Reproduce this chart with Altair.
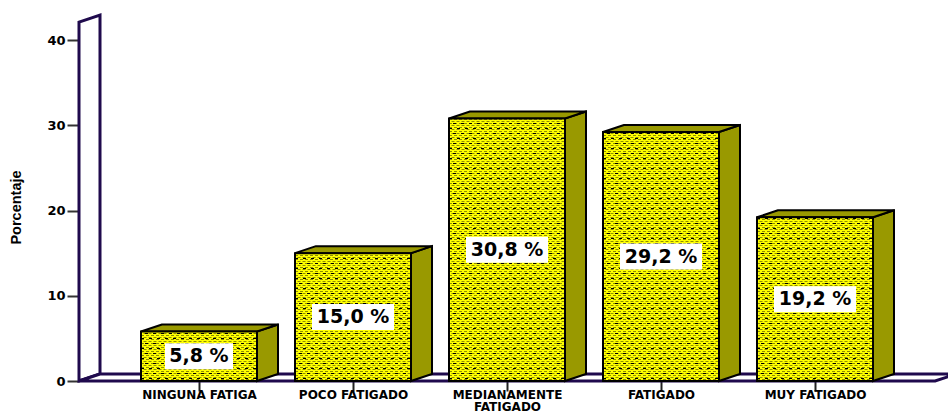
import altair as alt
import pandas as pd

# Survey results: share of respondents per fatigue level
categories = ["NINGUNA FATIGA", "POCO FATIGADO", "MEDIANAMENTE FATIGADO", "FATIGADO", "MUY FATIGADO"]
values = [5.8, 15.0, 30.8, 29.2, 19.2]
labels = ["5,8 %", "15,0 %", "30,8 %", "29,2 %", "19,2 %"]
y_ticks = [0, 10, 20, 30, 40]

PX_X = 154.0          # pixels per category step
PX_Y = 341 / 40       # pixels per percentage point
HALF_BAR = 58 / PX_X
DX = 21 / PX_X        # oblique depth, horizontal component
DY = 7 / PX_Y         # oblique depth, vertical component
X_MIN = -120 / PX_X
X_MAX = X_MIN + 869 / PX_X

PURPLE = "#1f0a4d"
OLIVE = "#999900"
YELLOW = "#ffff00"

x_scale = alt.Scale(domain=[X_MIN, X_MAX], nice=False, zero=False)
y_scale = alt.Scale(domain=[0, 40], nice=False, zero=False)

x_axis = alt.Axis(values=list(range(5)), title=None,
                  labelExpr="['NINGUNA FATIGA','POCO FATIGADO',['MEDIANAMENTE','FATIGADO'],'FATIGADO','MUY FATIGADO'][datum.value]",
                  labelFont="DejaVu Sans", labelFontWeight="bold", labelFontSize=12, labelColor="black",
                  labelLineHeight=12, labelPadding=-2, labelOverlap=False, labelAngle=0,
                  tickSize=10, tickWidth=2, tickColor="#222222", domain=False, grid=False)
y_axis = alt.Axis(values=y_ticks, title="Porcentaje",
                  titleFont="Liberation Sans", titleFontWeight="bold", titleFontSize=14.5,
                  titleColor="black", titleAngle=270, titleX=-56, titleY=167,
                  labelFont="DejaVu Sans", labelFontWeight="bold", labelFontSize=13, labelColor="black",
                  labelPadding=2, tickSize=12, tickWidth=2, tickColor="#333333",
                  domain=False, grid=False)


def X(field):
    return alt.X(field + ":Q", scale=x_scale, axis=x_axis)


def Y(field):
    return alt.Y(field + ":Q", scale=y_scale, axis=y_axis)


frame = pd.DataFrame({"x": list(range(5)), "y": values, "label": labels})
frame["left"] = frame.x - HALF_BAR
frame["right"] = frame.x + HALF_BAR
frame["base"] = 0.0

# Back wall and floor of the oblique box
wall = alt.Chart(pd.DataFrame({"x": [X_MIN, X_MIN + DX], "y": [42.1, 42.1 + DY],
                               "y2": [0, DY]})).mark_area(
    color="white", stroke=PURPLE, strokeWidth=3, clip=False
).encode(x=X("x"), y=Y("y"), y2="y2:Q")

floor = alt.Chart(pd.DataFrame({"y": [0, DY], "x": [X_MIN, X_MIN + DX],
                                "x2": [4.78, 4.78 + DX]})).mark_area(
    color="white", stroke=PURPLE, strokeWidth=3, orient="horizontal", clip=False
).encode(x=X("x"), x2="x2:Q", y=Y("y"))

# Front, top and side face of each column
faces = []
for _, b in frame.iterrows():
    side = pd.DataFrame({"x": [b.right, b.right + DX], "y": [b.y, b.y + DY], "y2": [0, DY]})
    top = pd.DataFrame({"y": [b.y, b.y + DY], "x": [b.left, b.left + DX], "x2": [b.right, b.right + DX]})
    faces.append(alt.Chart(side).mark_area(color=OLIVE, stroke="black", strokeWidth=2, clip=False)
                 .encode(x=X("x"), y=Y("y"), y2="y2:Q"))
    faces.append(alt.Chart(top).mark_area(color=OLIVE, stroke="black", strokeWidth=2, orient="horizontal", clip=False)
                 .encode(x=X("x"), x2="x2:Q", y=Y("y")))

front = alt.Chart(frame).mark_rect(color=YELLOW, clip=False).encode(
    x=X("left"), x2="right:Q", y=Y("y"), y2="base:Q")

# Hatched texture on the front faces, one row of dashes per line of fill
rows_olive, rows_black = [], []
for _, b in frame.iterrows():
    px, n = 1.5, 0
    while px < b.y * PX_Y - 1:
        rows_olive.append({"left": b.left, "right": b.right, "y": px / PX_Y, "odd": n % 2})
        px += 2
        n += 1
    px, n = 2.5, 0
    while px < b.y * PX_Y - 1:
        rows_black.append({"left": b.left, "right": b.right, "y": px / PX_Y, "odd": n % 2})
        px += 5
        n += 1
rows_olive = pd.DataFrame(rows_olive)
rows_black = pd.DataFrame(rows_black)


def hatch(rows, odd, color, dash, offset, width):
    return alt.Chart(rows[rows.odd == odd]).mark_rule(
        color=color, strokeDash=dash, strokeDashOffset=offset, strokeWidth=width, clip=False
    ).encode(x=X("left"), x2="right:Q", y=Y("y"))


texture = [
    hatch(rows_olive, 0, "#8f8f00", [3, 2], 0, 1),
    hatch(rows_olive, 1, "#8f8f00", [3, 2], 2.5, 1),
    hatch(rows_black, 0, "black", [3, 5], 0, 1),
    hatch(rows_black, 1, "black", [3, 5], 4, 1),
]

outline = alt.Chart(frame).mark_rect(fillOpacity=0, stroke="black", strokeWidth=2, clip=False).encode(
    x=X("left"), x2="right:Q", y=Y("y"), y2="base:Q")

# Value labels sit on white plates at mid-height of each column
plates = frame.copy()
plates["half"] = plates.label.str.len().map({5: 34, 6: 41}) / PX_X
plates["xa"] = plates.x - plates.half
plates["xb"] = plates.x + plates.half
plates["mid"] = plates.y / 2
plates["ya"] = plates.mid - 13 / PX_Y
plates["yb"] = plates.mid + 13 / PX_Y

plate = alt.Chart(plates).mark_rect(color="white", clip=False).encode(
    x=X("xa"), x2="xb:Q", y=Y("ya"), y2="yb:Q")
plate_text = alt.Chart(plates).mark_text(
    font="DejaVu Sans", fontWeight="bold", fontSize=19, color="black", align="center", baseline="middle"
).encode(x=X("x"), y=Y("mid"), text="label:N")

chart = alt.layer(wall, floor, *faces, front, *texture, outline, plate, plate_text).properties(
    width=869, height=341,
    padding={"left": 79, "top": 40, "right": 0, "bottom": 31},
    autosize=alt.AutoSizeParams(type="none"),
    background="white",
).configure_view(stroke=None)

chart.save("out.html", embed_options={"renderer": "svg", "actions": False})
